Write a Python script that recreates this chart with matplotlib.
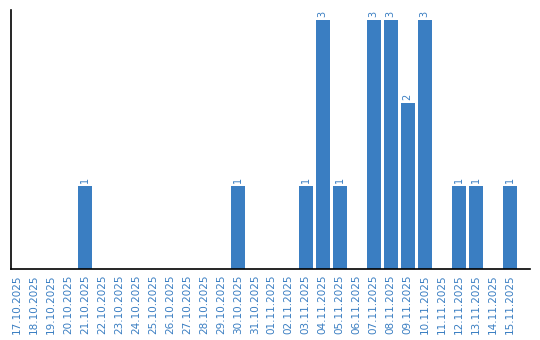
import matplotlib
matplotlib.use('Agg')
import matplotlib.pyplot as plt

dates = ['17.10.2025', '18.10.2025', '19.10.2025', '20.10.2025', '21.10.2025', '22.10.2025',
         '23.10.2025', '24.10.2025', '25.10.2025', '26.10.2025', '27.10.2025', '28.10.2025',
         '29.10.2025', '30.10.2025', '31.10.2025', '01.11.2025', '02.11.2025', '03.11.2025',
         '04.11.2025', '05.11.2025', '06.11.2025', '07.11.2025', '08.11.2025', '09.11.2025',
         '10.11.2025', '11.11.2025', '12.11.2025', '13.11.2025', '14.11.2025', '15.11.2025']
counts = [0, 0, 0, 0, 1, 0, 0, 0, 0, 0, 0, 0, 0, 1, 0, 0, 0, 1, 3, 1, 0, 3, 3, 2, 3, 0, 1, 1, 0, 1]

blue = '#3a7ec2'

fig = plt.figure(figsize=(5.4, 3.4), dpi=100)
ax = fig.add_axes([0.0204, 0.209, 0.961, 0.762])

x = range(len(dates))
ax.bar(x, counts, width=0.82, color=blue)

# Value labels above non-zero bars
for i, v in enumerate(counts):
    if v > 0:
        ax.text(i, v + 0.03, str(v), rotation=90, ha='center', va='bottom',
                fontsize=7, color=blue)

ax.set_xlim(-0.35, 30.2)
ax.set_ylim(0, 3.12)
ax.set_xticks(list(x))
ax.set_xticklabels(dates, rotation=90, fontsize=7.5, color=blue)
ax.tick_params(axis='x', length=0, pad=4)
ax.set_yticks([])
for side in ['top', 'right']:
    ax.spines[side].set_visible(False)
ax.spines['left'].set_linewidth(1.2)
ax.spines['bottom'].set_linewidth(1.2)

fig.savefig('out.png', dpi=100)
